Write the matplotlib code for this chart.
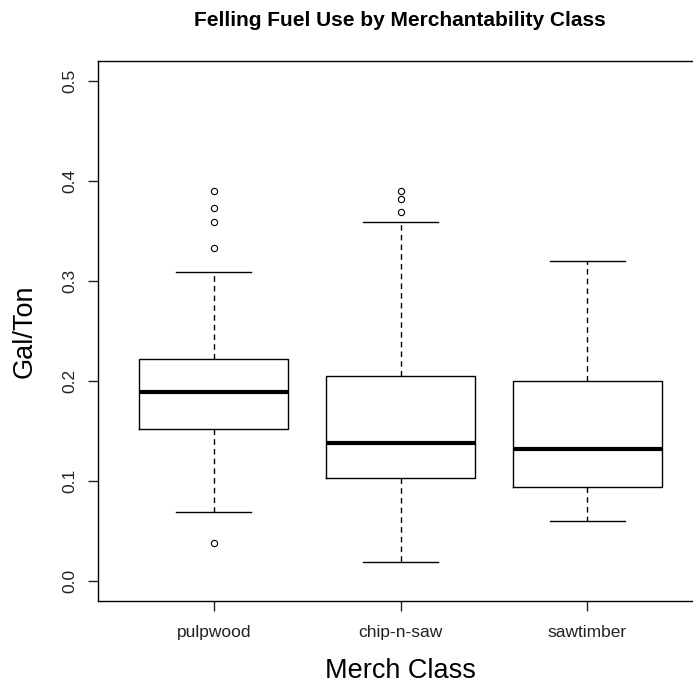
import numpy as np
import matplotlib
matplotlib.use("Agg")
import matplotlib.pyplot as plt

plt.rcParams['font.family'] = ['Liberation Sans', 'DejaVu Sans']

# box statistics
classes = ["pulpwood", "chip-n-saw", "sawtimber"]
whislo = [0.069, 0.019, 0.060]
q1 = [0.152, 0.103, 0.094]
med = [0.189, 0.138, 0.132]
q3 = [0.222, 0.205, 0.200]
whishi = [0.309, 0.359, 0.320]
outliers = [
    [0.390, 0.373, 0.359, 0.333, 0.038],
    [0.390, 0.382, 0.369],
    [],
]

stats = []
for i in range(len(classes)):
    stats.append(dict(label=classes[i], whislo=whislo[i], q1=q1[i], med=med[i],
                      q3=q3[i], whishi=whishi[i], fliers=outliers[i]))

fig = plt.figure(figsize=(6.93, 6.86), dpi=100)
ax = fig.add_axes([98/693, 85/686, 605/693, 540/686])

ax.bxp(stats, positions=[1, 2, 3], widths=0.8, showfliers=True,
       boxprops=dict(color='black', linewidth=1.0),
       medianprops=dict(color='black', linewidth=3.0),
       whiskerprops=dict(color='black', linewidth=1.0, linestyle=(0, (4, 3))),
       capprops=dict(color='black', linewidth=1.0),
       capwidths=0.4,
       flierprops=dict(marker='o', markerfacecolor='none', markeredgecolor='black',
                       markersize=4.5, markeredgewidth=0.8))

ax.set_xlim(0.38, 3.62)
ax.set_ylim(-0.02, 0.52)
ax.set_yticks([0.0, 0.1, 0.2, 0.3, 0.4, 0.5])
ax.set_yticklabels(["0.0", "0.1", "0.2", "0.3", "0.4", "0.5"], rotation=90, va='center')
ax.set_xticks([1, 2, 3])
ax.set_xticklabels(classes)
ax.tick_params(axis='both', labelsize=12.5, length=7, width=1, colors='#222222')
ax.tick_params(axis='x', pad=10)
ax.tick_params(axis='y', pad=8)
for s in ax.spines.values():
    s.set_linewidth(1.0)

ax.set_xlabel("Merch Class", fontsize=19.5, labelpad=13.5)
ax.set_ylabel("Gal/Ton", fontsize=19.5, labelpad=18)
fig.text(400/693, 1 - 20/686, "Felling Fuel Use by Merchantability Class",
         ha='center', va='center', fontsize=15, fontweight='bold')

fig.savefig("out.png", dpi=100)
